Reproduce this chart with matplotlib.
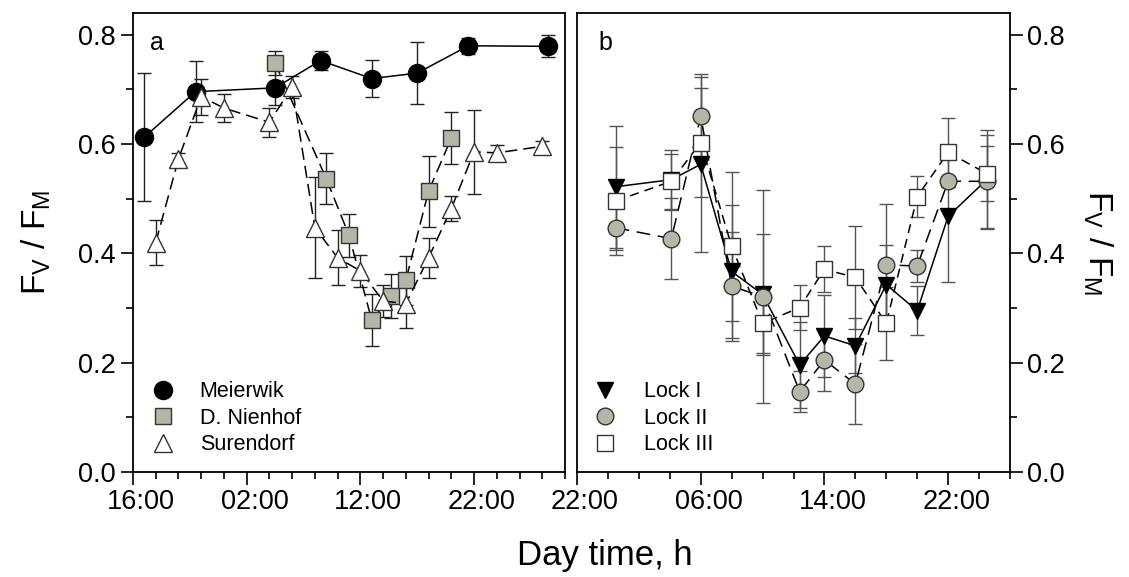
import matplotlib
matplotlib.use('Agg')
import matplotlib.pyplot as plt
from matplotlib.lines import Line2D
from matplotlib.transforms import ScaledTranslation
from matplotlib.ticker import MultipleLocator, FixedLocator

plt.rcParams['font.family'] = ['Liberation Sans', 'DejaVu Sans']
plt.rcParams['mathtext.fontset'] = 'custom'
plt.rcParams['mathtext.rm'] = 'Liberation Sans'

# ---- data, panel a (hours counted from 00:00 of day 1) ----
meier_x = [17, 21.5, 28.5, 32.5, 37, 41, 45.5, 52.5]
meier_y = [0.613, 0.696, 0.703, 0.753, 0.720, 0.730, 0.780, 0.779]
meier_e = [0.117, 0.056, 0.032, 0.017, 0.034, 0.057, 0.015, 0.02]

nien_x = [28.5, 33, 35, 37, 38.7, 40, 42, 44]
nien_y = [0.748, 0.537, 0.433, 0.278, 0.322, 0.351, 0.514, 0.611]
nien_e = [0.022, 0.046, 0.04, 0.048, 0.04, 0.045, 0.065, 0.047]

sure_x = [18, 20, 22, 24, 28, 30, 32, 34, 36, 38, 40, 42, 44, 46, 48, 52]
sure_y = [0.42, 0.573, 0.687, 0.666, 0.640, 0.705, 0.447, 0.392, 0.368, 0.313,
          0.308, 0.392, 0.482, 0.586, 0.584, 0.596]
sure_e = [0.042, 0.01, 0.033, 0.026, 0.027, 0.02, 0.092, 0.05, 0.03, 0.03,
          0.045, 0.037, 0.023, 0.077, 0.015, 0.01]

# ---- data, panel b ----
lock_x = [24.5, 28.1, 30, 32, 34, 36.4, 38, 40, 42, 44, 46, 48.5]
lock1_y = [0.522, 0.535, 0.563, 0.367, 0.325, 0.196, 0.249, 0.231, 0.343, 0.295, 0.468, 0.535]
lock1_e = [0.112, 0.055, 0.16, 0.121, 0.11, 0.078, 0.075, 0.05, 0.072, 0.045, 0.12, 0.09]
lock2_y = [0.447, 0.427, 0.651, 0.340, 0.321, 0.147, 0.205, 0.161, 0.379, 0.377, 0.532, 0.532]
lock2_e = [0.04, 0.074, 0.078, 0.10, 0.195, 0.038, 0.056, 0.073, 0.112, 0.03, 0.01, 0.085]
lock3_y = [0.496, 0.532, 0.603, 0.413, 0.272, 0.301, 0.371, 0.356, 0.272, 0.504, 0.585, 0.546]
lock3_e = [0.098, 0.05, 0.10, 0.136, 0.055, 0.042, 0.042, 0.095, 0.067, 0.037, 0.063, 0.05]

ticks_a = [16, 26, 36, 46]
labels_a = ['16:00', '02:00', '12:00', '22:00']
ticks_b = [22, 30, 38, 46]
labels_b = ['22:00', '06:00', '14:00', '22:00']

GREY = '#b5b5a8'
FV = r'F$_\mathregular{V}$ / F$_\mathregular{M}$'

fig = plt.figure(figsize=(11.29, 5.77), dpi=100)
ax1 = fig.add_axes([133 / 1129, 105 / 577, 432 / 1129, 459 / 577])
ax2 = fig.add_axes([577 / 1129, 105 / 577, 433 / 1129, 459 / 577])

eb = dict(capsize=5, elinewidth=1, capthick=1, ecolor='#222222', color='black', lw=1.1)

ax1.errorbar(meier_x, meier_y, yerr=meier_e, fmt='-o', ms=13, mfc='black', mec='black', **eb)
ax1.errorbar(nien_x, nien_y, yerr=nien_e, fmt='s', ls=(0, (8, 4)), ms=11, mfc=GREY, mec='#333333', **eb)
ax1.errorbar(sure_x, sure_y, yerr=sure_e, fmt='^', ls=(0, (8, 4)), ms=13, mfc='white', mec='#333333', **eb)

eb2 = dict(capsize=5, elinewidth=1, capthick=1, ecolor='#555555', color='black', lw=1.1)
ax2.errorbar(lock_x, lock1_y, yerr=lock1_e, fmt='-v', ms=12, mfc='black', mec='black', **eb2)
ax2.errorbar(lock_x, lock2_y, yerr=lock2_e, fmt='o', ls=(0, (9, 5)), ms=12, mfc=GREY, mec='#333333', **eb2)
ax2.errorbar(lock_x, lock3_y, yerr=lock3_e, fmt='s', ls=(0, (6, 4)), ms=11, mfc='white', mec='#333333', **eb2)

ax1.set_xlim(16, 54)
ax2.set_xlim(22, 50)
offset = ScaledTranslation(8 / 100, 0, fig.dpi_scale_trans)
for ax, t, l in [(ax1, ticks_a, labels_a), (ax2, ticks_b, labels_b)]:
    ax.set_ylim(0, 0.84)
    ax.xaxis.set_major_locator(FixedLocator(t))
    ax.set_xticklabels(l)
    ax.xaxis.set_minor_locator(MultipleLocator(2))
    ax.yaxis.set_major_locator(MultipleLocator(0.2))
    ax.yaxis.set_minor_locator(MultipleLocator(0.1))
    ax.tick_params(which='major', direction='out', length=9, width=1.2, labelsize=19.5)
    ax.tick_params(which='minor', direction='out', length=5, width=1.2)
    for s in ax.spines.values():
        s.set_linewidth(1.3)
    for lab in ax.get_xticklabels():
        lab.set_transform(lab.get_transform() + offset)

ax1.yaxis.set_major_formatter(plt.FormatStrFormatter('%.1f'))
ax2.yaxis.set_major_formatter(plt.FormatStrFormatter('%.1f'))
ax2.yaxis.tick_right()
ax2.yaxis.set_label_position('right')
ax1.set_ylabel(FV, fontsize=24, labelpad=18)
ax2.set_ylabel(FV, fontsize=24, rotation=270, labelpad=36)

ax1.text(0.04, 0.96, 'a', transform=ax1.transAxes, fontsize=18, va='top')
ax2.text(0.05, 0.96, 'b', transform=ax2.transAxes, fontsize=18, va='top')

h1 = [Line2D([], [], ls='none', marker='o', ms=13, mfc='black', mec='black'),
      Line2D([], [], ls='none', marker='s', ms=11, mfc=GREY, mec='#333333'),
      Line2D([], [], ls='none', marker='^', ms=13, mfc='white', mec='#333333')]
ax1.legend(h1, ['Meierwik', 'D. Nienhof', 'Surendorf'], loc='lower left', frameon=False,
           fontsize=15.5, handletextpad=0.7, labelspacing=0.25, borderaxespad=0.6,
           bbox_to_anchor=(-0.03, -0.01))
h2 = [Line2D([], [], ls='none', marker='v', ms=12, mfc='black', mec='black'),
      Line2D([], [], ls='none', marker='o', ms=12, mfc=GREY, mec='#333333'),
      Line2D([], [], ls='none', marker='s', ms=11, mfc='white', mec='#333333')]
ax2.legend(h2, ['Lock I', 'Lock II', 'Lock III'], loc='lower left', frameon=False,
           fontsize=15.5, handletextpad=0.8, labelspacing=0.25, borderaxespad=0.6,
           bbox_to_anchor=(-0.035, -0.01))

fig.text(0.536, 0.02, 'Day time, h', fontsize=25, ha='center')

fig.savefig('out.png', dpi=100)
